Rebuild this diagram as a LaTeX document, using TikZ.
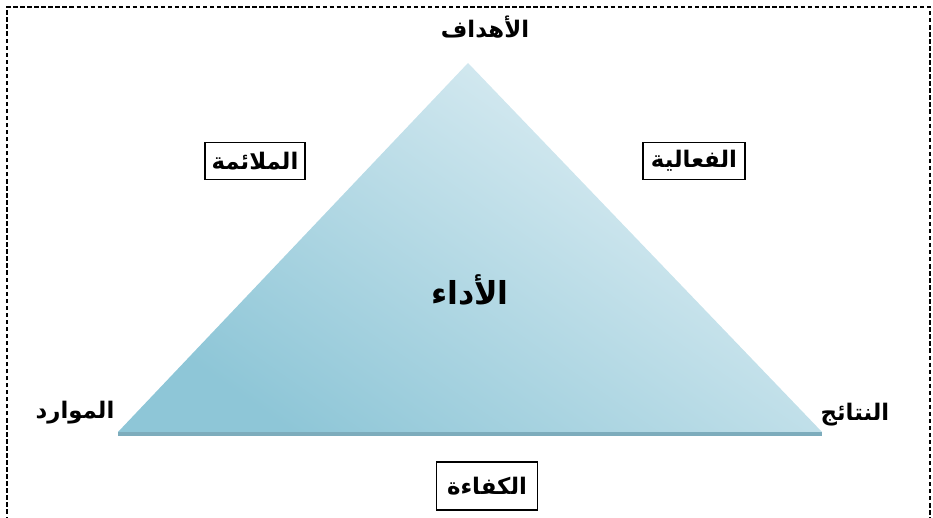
\documentclass[tikz,border=0pt]{standalone}
\usepackage{fontspec}
\newfontfamily\arabicfont[Script=Arabic]{DejaVu Sans}
\TeXXeTstate=1
\usepackage{tikz}
\usetikzlibrary{positioning}
\definecolor{bleufonce}{RGB}{142,198,215}
\definecolor{bleuclair}{RGB}{226,240,245}
\definecolor{bleuombre}{RGB}{125,172,188}
\newcommand{\ar}[1]{\arabicfont\beginR #1\endR}

\begin{document}
\begin{tikzpicture}[font=\arabicfont\bfseries\fontsize{13}{15}\selectfont]
				\clip (0,0) rectangle (18.66,10.34);
				\draw[dash pattern=on 2.5pt off 1.5pt, semithick] (0.14,-0.5) rectangle (18.6,10.2);
				
				% sommets du triangle
				\coordinate (obj) at (9.36,9.08);
				\coordinate (res) at (2.36,1.70);
				\coordinate (out) at (16.44,1.70);
				
				\shade[bottom color=bleufonce, top color=bleuclair, shading angle=-35]
				(res) -- (obj) -- (out) -- cycle;
				\draw[bleuombre, line width=2.5pt] ([yshift=-1pt]res) -- ([yshift=-1pt]out);
				
				\node (hdf) at (9.70,9.80) {\ar{الأهداف}};
				\node (mwr) at (1.50,2.08) {\ar{الموارد}};
				\node (ntj) at (17.10,2.04) {\ar{النتائج}};
				\node[font=\arabicfont\bfseries\fontsize{18}{20}\selectfont]
				(ada) at (9.40,4.54) {\ar{الأداء}};
				
				\node[draw, thick, fill=white, minimum width=2cm, minimum height=0.74cm]
				(mlm) at (5.10,7.12) {\ar{الملائمة}};
				\node[draw, thick, fill=white, minimum width=2.04cm, minimum height=0.74cm]
				(fal) at (13.88,7.12) {\ar{الفعالية}};
				\node[draw, thick, fill=white, minimum width=2.02cm, minimum height=0.96cm]
				(kfa) at (9.74,0.62) {\ar{الكفاءة}};
			\end{tikzpicture}
\end{document}
